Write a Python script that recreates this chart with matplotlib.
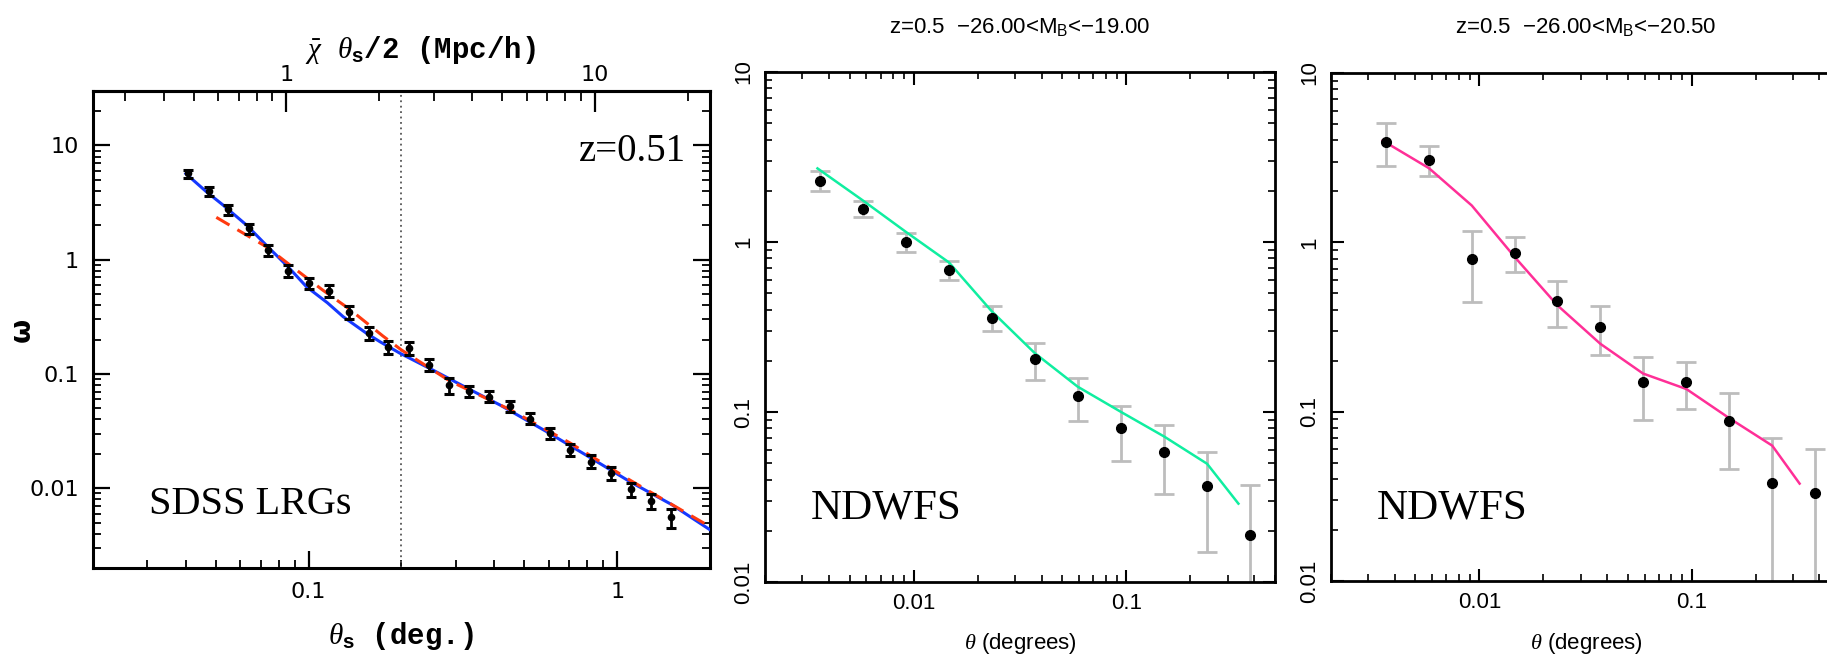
import numpy as np
import matplotlib
matplotlib.use("Agg")
import matplotlib.pyplot as plt
from matplotlib.ticker import LogLocator, NullFormatter, FixedLocator, FixedFormatter

plt.rcParams['mathtext.fontset'] = 'custom'
plt.rcParams['mathtext.rm'] = 'Liberation Sans'
plt.rcParams['mathtext.it'] = 'Liberation Serif:italic'
plt.rcParams['mathtext.bf'] = 'Liberation Sans:bold'

# ---- SDSS LRG panel (z=0.51) ----
sdss_theta = [0.0405, 0.0474, 0.0548, 0.064, 0.0741, 0.086, 0.1, 0.116, 0.1355, 0.157,
              0.181, 0.211, 0.245, 0.285, 0.331, 0.384, 0.448, 0.521, 0.606, 0.705,
              0.82, 0.952, 1.107, 1.29, 1.50]
sdss_w = [5.70, 3.99, 2.76, 1.88, 1.216, 0.801, 0.622, 0.535, 0.351, 0.227,
          0.171, 0.170, 0.120, 0.0801, 0.0710, 0.0633, 0.0525, 0.0407, 0.0303, 0.0216,
          0.0171, 0.0135, 0.0098, 0.00774, 0.00557]
sdss_relerr = [0.08, 0.09, 0.10, 0.10, 0.11, 0.12, 0.11, 0.12, 0.13, 0.13,
               0.13, 0.13, 0.12, 0.16, 0.11, 0.11, 0.11, 0.11, 0.11, 0.12,
               0.13, 0.13, 0.14, 0.15, 0.19]

blue_theta = [0.040, 0.0466, 0.0528, 0.0629, 0.0737, 0.086, 0.0984, 0.115, 0.1294, 0.154,
              0.170, 0.1975, 0.253, 0.33, 0.417, 0.59, 0.80, 1.10, 1.5, 2.0]
blue_w = [5.67, 3.94, 3.01, 2.01, 1.30, 0.86, 0.58, 0.42, 0.317, 0.227,
          0.192, 0.152, 0.108, 0.074, 0.0535, 0.0313, 0.0192, 0.0114, 0.0072, 0.00432]

red_theta = [0.0502, 0.0729, 0.086, 0.111, 0.1355, 0.174, 0.2, 0.287, 0.449, 0.703, 1.104, 2.0]
red_w = [2.35, 1.30, 0.92, 0.543, 0.37, 0.215, 0.162, 0.0866, 0.0488, 0.0249, 0.0117, 0.0046]

chi_factor = 11.8      # deg -> Mpc/h on the top axis
theta_cut = 0.2

# ---- NDWFS panels ----
nd_theta = [0.00364, 0.00579, 0.00921, 0.01466, 0.0233, 0.0371, 0.0590, 0.0945, 0.1507, 0.2397, 0.3805]

nd1_w = [2.30, 1.57, 1.00, 0.684, 0.359, 0.204, 0.124, 0.0802, 0.0585, 0.0368, 0.0190]
nd1_hi = [2.60, 1.74, 1.13, 0.771, 0.423, 0.253, 0.158, 0.108, 0.0834, 0.0578, 0.0374]
nd1_lo = [1.99, 1.40, 0.878, 0.598, 0.298, 0.154, 0.0885, 0.0516, 0.0331, 0.0150, 0.001]
nd1_mod_theta = [0.00353, 0.00579, 0.00921, 0.01466, 0.0233, 0.0371, 0.0590, 0.0945, 0.1507, 0.2397, 0.3365]
nd1_mod_w = [2.71, 1.75, 1.145, 0.758, 0.391, 0.222, 0.141, 0.100, 0.0717, 0.0496, 0.0289]

nd2_w = [3.92, 3.07, 0.80, 0.867, 0.450, 0.316, 0.150, 0.150, 0.0877, 0.0381, 0.0333]
nd2_hi = [5.05, 3.69, 1.166, 1.077, 0.588, 0.418, 0.211, 0.196, 0.129, 0.0703, 0.0606]
nd2_lo = [2.82, 2.45, 0.442, 0.664, 0.315, 0.215, 0.0898, 0.104, 0.0457, 0.001, 0.001]
nd2_mod_theta = [0.0035, 0.00579, 0.00921, 0.01466, 0.0233, 0.0371, 0.0590, 0.0945, 0.1507, 0.2397, 0.3226]
nd2_mod_w = [3.99, 2.74, 1.65, 0.82, 0.425, 0.252, 0.168, 0.136, 0.0914, 0.063, 0.0376]

W, H = 1827, 655
fig = plt.figure(figsize=(W / 100, H / 100), dpi=100)


def box(l, r, t, b):
    return [l / W, 1 - b / H, (r - l) / W, (b - t) / H]


def log_ticks(ax, which, major_len, minor_len, width):
    ax.tick_params(which='major', direction='in', length=major_len, width=width,
                   top=True, right=True)
    ax.tick_params(which='minor', direction='in', length=minor_len, width=width * 0.8,
                   top=True, right=True)


# ---------------- panel 1 ----------------
ax1 = fig.add_axes(box(93, 710, 91, 568))
ax1.set_xscale('log')
ax1.set_yscale('log')
ax1.set_xlim(0.02, 2)
ax1.set_ylim(0.002, 30)

ax1.axvline(theta_cut, color='#555555', lw=1.3, ls=(0, (1, 2)))
ax1.plot(blue_theta, blue_w, color='#1538ff', lw=2.2, zorder=3)
ax1.plot(red_theta, red_w, color='#ff3a10', lw=2.2, dashes=(5, 3), zorder=3)
sw = np.array(sdss_w)
se = sw * np.array(sdss_relerr)
ax1.errorbar(sdss_theta, sdss_w, yerr=se, fmt='o', color='black', ms=4.5,
             elinewidth=2, capsize=3.5, capthick=2.2, zorder=4)

for s in ax1.spines.values():
    s.set_linewidth(2.2)
ax1.tick_params(which='major', direction='in', length=12, width=1.6, right=True, top=False,
                labelsize=16, pad=10)
ax1.tick_params(which='minor', direction='in', length=6, width=1.3, right=True, top=False)
ax1.xaxis.set_major_locator(FixedLocator([0.1, 1]))
ax1.xaxis.set_major_formatter(FixedFormatter(['0.1', '1']))
ax1.xaxis.set_minor_locator(LogLocator(base=10, subs=np.arange(2, 10), numticks=20))
ax1.xaxis.set_minor_formatter(NullFormatter())
ax1.yaxis.set_major_locator(FixedLocator([0.01, 0.1, 1, 10]))
ax1.yaxis.set_major_formatter(FixedFormatter(['0.01', '0.1', '1', '10']))
ax1.yaxis.set_minor_locator(LogLocator(base=10, subs=np.arange(2, 10), numticks=20))
ax1.yaxis.set_minor_formatter(NullFormatter())
for lab in ax1.get_xticklabels() + ax1.get_yticklabels():
    lab.set_family('DejaVu Sans')

top = ax1.secondary_xaxis('top', functions=(lambda x: x * chi_factor, lambda x: x / chi_factor))
top.spines['top'].set_linewidth(2.2)
top.set_xticks([1, 10])
top.set_xticklabels(['1', '10'])
top.xaxis.set_minor_locator(LogLocator(base=10, subs=np.arange(2, 10), numticks=20))
top.xaxis.set_minor_formatter(NullFormatter())
top.tick_params(which='major', direction='in', length=15, width=1.6, labelsize=16, pad=4)
top.tick_params(which='minor', direction='in', length=7, width=1.3)

ax1.text(0.961, 0.874, 'z=0.51', transform=ax1.transAxes, ha='right', va='center',
         family='Liberation Serif', fontsize=28)
ax1.text(0.091, 0.113, 'SDSS LRGs', transform=ax1.transAxes, ha='left', va='baseline',
         family='Liberation Serif', fontsize=29)

fig.text(401 / W, 1 - 636 / H, r'$\theta_\mathbf{s}$ (deg.)', ha='center', va='center',
         family='Liberation Mono', weight='bold', fontsize=21)
fig.text(420 / W, 1 - 50 / H, r'$\bar{\chi}$ $\theta_\mathbf{s}$/2 (Mpc/h)', ha='center', va='center',
         family='Liberation Mono', weight='bold', fontsize=21)
fig.text(22 / W, 1 - 330 / H, '\u03c9', ha='center', va='center', rotation=90,
         family='DejaVu Sans', weight='bold', fontsize=20)


# ---------------- NDWFS panels ----------------
def nd_panel(rect, w, lo, hi, mth, mw, color, title, title_x):
    ax = fig.add_axes(rect)
    ax.set_xscale('log')
    ax.set_yscale('log')
    ax.set_xlim(0.002, 0.5)
    ax.set_ylim(0.01, 10)
    w = np.array(w)
    yerr = [w - np.array(lo), np.array(hi) - w]
    ax.errorbar(nd_theta, w, yerr=yerr, fmt='none', ecolor='#bdbdbd', elinewidth=2,
                capsize=7, capthick=2, zorder=2)
    ax.plot(mth, mw, color=color, lw=1.8, zorder=3)
    ax.plot(nd_theta, w, 'o', color='black', ms=7, zorder=4)
    for s in ax.spines.values():
        s.set_linewidth(2)
    ax.tick_params(which='major', direction='in', length=9, width=1.5, top=True, right=True,
                   labelsize=16, pad=8)
    ax.tick_params(which='minor', direction='in', length=5, width=1.2, top=True, right=True)
    ax.xaxis.set_major_locator(FixedLocator([0.01, 0.1]))
    ax.xaxis.set_major_formatter(FixedFormatter(['0.01', '0.1']))
    ax.xaxis.set_minor_locator(LogLocator(base=10, subs=np.arange(2, 10), numticks=20))
    ax.xaxis.set_minor_formatter(NullFormatter())
    ax.yaxis.set_major_locator(FixedLocator([0.01, 0.1, 1, 10]))
    ax.yaxis.set_major_formatter(FixedFormatter(['0.01', '0.1', '1', '10']))
    ax.yaxis.set_minor_locator(LogLocator(base=10, subs=np.arange(2, 10), numticks=20))
    ax.yaxis.set_minor_formatter(NullFormatter())
    for lab in ax.get_xticklabels() + ax.get_yticklabels():
        lab.set_family('Liberation Sans')
    for lab in ax.get_yticklabels():
        lab.set_rotation(90)
        lab.set_va('center')
    ax.text(0.09, 0.124, 'NDWFS', transform=ax.transAxes, ha='left', va='baseline',
            family='Liberation Serif', fontsize=31)
    fig.text(title_x / W, 1 - 27 / H, title, ha='center', va='center',
             family='Liberation Sans', fontsize=16)
    fig.text(title_x / W, 1 - 644 / H, r'$\theta$ (degrees)', ha='center', va='center',
             family='Liberation Sans', fontsize=16)
    return ax


nd_panel(box(765, 1275, 72, 582), nd1_w, nd1_lo, nd1_hi, nd1_mod_theta, nd1_mod_w,
         '#10eea0', 'z=0.5  \u221226.00<M$_\\mathregular{B}$<\u221219.00', 1020)
nd_panel(box(1331, 1840, 73, 581), nd2_w, nd2_lo, nd2_hi, nd2_mod_theta, nd2_mod_w,
         '#ff2f97', 'z=0.5  \u221226.00<M$_\\mathregular{B}$<\u221220.50', 1586)

fig.savefig('out.png', dpi=100)
